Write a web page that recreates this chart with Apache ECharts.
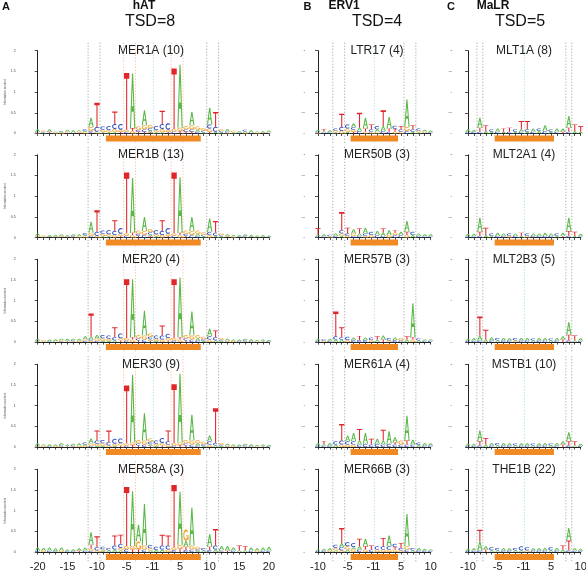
<!DOCTYPE html>
<html><head><meta charset="utf-8">
<script src="https://cdn.jsdelivr.net/npm/echarts@6/dist/echarts.min.js"></script>
<style>html,body{margin:0;padding:0;background:#fff}#c{width:586px;height:574px}</style>
</head><body><div id="c"></div>
<script>
// ---------------- DATA ----------------
const POS_A = [-20,-19,-18,-17,-16,-15,-14,-13,-12,-11,-10,-9,-8,-7,-6,-5,-4,-3,-2,-1,1,2,3,4,5,6,7,8,9,10,11,12,13,14,15,16,17,18,19,20];
const POS_BC = [-10,-9,-8,-7,-6,-5,-4,-3,-2,-1,1,2,3,4,5,6,7,8,9,10];
const TICKS_A = [-20,-15,-10,-5,-1,1,5,10,15,20];
const TICKS_BC = [-10,-5,-1,1,5,10];
const FAMILIES = ['hAT','ERV1','MaLR'];
const TSD = [8,4,5];
const PANEL_LETTERS = ['A','B','C'];
const NAMES_A = ['MER1A (10)','MER1B (13)','MER20 (4)','MER30 (9)','MER58A (3)'];
const NAMES_B = ['LTR17 (4)','MER50B (3)','MER57B (3)','MER61A (4)','MER66B (3)'];
const NAMES_C = ['MLT1A (8)','MLT2A1 (4)','MLT2B3 (5)','MSTB1 (10)','THE1B (22)'];
// dotted guide lines: drawn just after the given position
const GREY_A = [-12,-10,9,11], ORANGE_A = [-6,-4,3,5];
const GREY_B = [-8,-6,5,7];
const GREY_C = [-9,-8,7,8];
const CENTER = [-1];
// logo stacks per position: letter + height in hundredths of a bit
const MER1A = ["A6G2C2","G3A2C2","A6C2T2","A3G2","G2A2C2","A5T2G2","A6C2","G3A3T2","C4G3A3",
 "A22G10C4T2","T58C12G4","C8G6A3","C10G5A3","T30C12G8A3","C14G5T4","T137G5C4","A132T7G6","G8C5T4","A36G10C6T4","G8C6A4T3",
 "C10G5A3","T32C12G8A3","C16G5T4","T146G6C5","A152G8T6","G8C6T4","A32G10C6T4","G8A5C4","G6C4A3","A40C10G8T4","T36C12A4","G4A3C3",
 "A6C3G2","G4A3","A4C2","C4A3G2","A6C2","A3G2","A4T2","A3C2G2"];
const MER1B = ["A5G3C2","G3A2","A4C2","A5G2","G3A3C2","A4T2","C3A3G2","A5G3","C5G3A3",
 "A26G8C4","T52C10G4","C8G6A3","C10G5A3","T26C10G6","C14G5T4","T146G6C5","A132G6T6","G8C5T4","A34G10C6","G8C6A4T3",
 "C10G5A3","T26C10G6","C14G5T4","T146G6C5","A134G6T6","G8C5T4","A34G10C6","G8A5C4","G6C4A3","A32C8G6","T28C8A4","G4A3C3",
 "A4C2G2","G3A3","A4C2","C3A3G2","A5C2","A3G2","A4T2","A3C2"];
const MER20 = ["A4G2C2","G3A2","A4C2","A5G2","G3A3C2","A6T2","C3A3G2","A5G3","A8C3G3",
 "T56A6C4G3","A8G6C3","C8G6A3","C8G5A3","T24C8A4","C12G5T4","T142G6C4","A140G6T6","G8C5T4","A60G10C6","G8C6A4T3",
 "C8G5A3","T24C10G6","C10G6T4","T142G6C4","A144G6T6","G8C5T4","A58G10C6","G8A5C4","G6C4A3","A18C8G6","T16C8A4","G4A3C3",
 "A4C2G2","G3A3","A4C2","C3A3G2","A5C2","A3G2","A4T2","A3C2"];
const MER30 = ["A5G2C2","A4G3","A5C2","G3A3","A5C3G2","A4T2","C3A3G2","A6G3","C5G3A3",
 "A12G6C3","T24C8G5A3","C8G6A3","T28C8G4","C12G5A3","C12G5T4","T140G5C4","A164G6T5","G8C5T4","A66G10C6","G8C6A4T3",
 "C8G5A3","C12G6T4","T26C8G6","T142G6C4","A166G6T5","G8C5T4","A62G10C6","G8A5C4","G6C4A3","A14C8G6","T84C6A4","G4A3C3",
 "A4C2G2","G3A3","A4C2","C3A3G2","A5C2","A3G2","A4T2","A3C2"];
const MER58A = ["A8C3","A7G3","A8C3","A7C2","A8G3","A4C2","A5C2","A6T3","A8C3",
 "A30T10G5C3","T26C8G4","C6G4A3","C6A4","T24C10A6","T22C10G6A4","T142G8C7","A132G8T7","A40G20T6","A100G10C6","C8G5A4",
 "C8A5","T26C10A6","T24C10G6","T150G7C5","A128G10T8","G28A14T8C5","A92G10C6","G6C4A3","C6A4","A30T8C5","T40C10A6","A10C3G2",
 "A12T3","A8C3","T12A4","T10A4","A8C3","A6G3","A8C3","A10C3"];
const LTR17 = ["A4C3G2","T6A3C2","A5C3","C5G4A3","T32C10G6","C10G8A4","A10C6G5T4","T36A8C6","A26T8G4","T12C6G4",
 "C8A6G4","T38A12C6","A28T8C4","C8G5T6","T8C6G4","A66G10C6","T10C6A4","C5G4A3","A4G3C2","A4C3"];
const MER50B = ["T16A4C3","A5C3","C4G3","A6C4","T44C8G6A4","T14C6G4","A10G6C4","T12A6C4","A14C6G4","C8G6",
 "A10C6","T10A8C4","A12G6","C6G6T6","A8C6","A26T8G6","C8A6","A6C4","A5C3","A5C3"];
const MER57B = ["A5C3","C4G3","A5C3","T60C8A6","T24A6C6","C8G5","A6C5","T10C5","A6C5","C6G5",
 "T8A6","A10T6","C6G4","A6C5","G6C4","T8A6","A82G6T6","C5A4","A4C3","A4C3"];
const MER61A = ["A5C4","T8A4C3","A6C4","C8A6","T40C10G6","A14C8G6","A20C8G6","T28A10C6","A26C8","T14C6",
 "A12C8","T26A10C6","A30C8","A12C6T6","G10C6","A60T10C6","A12C6","C6A5","A6C4","A5C4"];
const MER66B = ["A4C3","A5C3","A6G3","C8G6A4","T36A10C8G4","C10G8A6","C10G6A6","T18A8C6","A18T8G6","T10C6",
 "C8G6","T20C8G6","A26C8G6","C8G6T6","T12C6G4","A78G8C6","C6A4","A6C4","A5C3","A4C3"];
const MLT1A = ["A8C3","A5C4","A24T10C4","T14A6","C6A4","A8C4","T8A4","T10C4","C6A4","T20A6C4",
 "T20C6A4","A8C4","A6C6","A14C6","C6A4","A8C4","A8T4","A28T10C4","T16A6","T14A4"];
const MLT2A1 = ["A6C3","A6C3","A34T10C4","T18A6","C6A4","A8C4","A6C4","C6G4","A6C4","T8A4",
 "C6G4","A6C4","A6C4","A8C4","A6C4","C6A4","A8T4","A32T12C4","T10A4","A6C3"];
const MLT2B3 = ["A5C3","A6C3","T46A12C4","T24A6","A8C4","C6A4","A6C4","A5C4","C6G4","A6C4",
 "A6C4","C5A4","A6C4","A6C4","C5A4","A6C4","A8T6","A30T14C4","T12A4","A6C3"];
const MSTB1 = ["A5C3","A5C3","A26T10C4","T16A6","A6C4","C6A4","A6C4","A5C4","C5A4","A5C4",
 "A5C4","C5A4","A5C4","A6C4","C5A4","A6C4","A8T6","A22T10C4","T10A4","A5C3"];
const THE1B = ["A5C3","A6C3","T28A22C4","A8T6","C8A4","C6A4","A5C4","A5C4","C6A4","C10A4",
 "C8G4","A5C4","A5C4","A6C4","C8A4","A6C4","T10A6","A30T24C4","A6C3","A5C3"];

const COLUMNS = [
  {pos: POS_A, ticks: TICKS_A, names: NAMES_A, panels: [MER1A,MER1B,MER20,MER30,MER58A], grey: GREY_A, orange: ORANGE_A, tsd: TSD[0]},
  {pos: POS_BC, ticks: TICKS_BC, names: NAMES_B, panels: [LTR17,MER50B,MER57B,MER61A,MER66B], grey: GREY_B, orange: [], tsd: TSD[1]},
  {pos: POS_BC, ticks: TICKS_BC, names: NAMES_C, panels: [MLT1A,MLT2A1,MLT2B3,MSTB1,THE1B], grey: GREY_C, orange: [], tsd: TSD[2]}
];

// ---------------- LAYOUT / STYLE ----------------
const STEP = 5.93;
const GEOM = [
  {first: 37.7, yAxisX: 22.7, nameX: 151, headX: 144, tsdX: 150, letterX: 6, yLab: 3.5, yMargin: 7},
  {first: 318, yAxisX: 308, nameX: 377, headX: 344, tsdX: 377, letterX: 307.5, yLab: 2.5, yMargin: 3},
  {first: 468, yAxisX: 455, nameX: 524, headX: 493, tsdX: 520, letterX: 451, yLab: 2.5, yMargin: 3}
];
const ROW_TOP = [50.7, 154.8, 259.3, 364.3, 469.3];
const ROW_H = 82.8;
const COLORS = ['#59b846', '#2c4fbf', '#f2a532', '#e0262b'];
const LINE_COLORS = {grey: '#8c8c8c', orange: '#f4ad78', blue: '#93cfe9'};
const FONT = 'Liberation Sans, Arial, Helvetica, sans-serif';

// glyph outlines in unit box (x right, y up)
function arcPts(cx, cy, rx, ry, a0, a1, n) {
  const p = [];
  for (let k = 0; k <= n; k++) { const a = (a0 + (a1 - a0) * k / n) * Math.PI / 180; p.push([cx + rx * Math.cos(a), cy + ry * Math.sin(a)]); }
  return p;
}
const C_RING = arcPts(0.5, 0.5, 0.5, 0.5, 42, 318, 24).concat(arcPts(0.5, 0.5, 0.3, 0.31, 318, 42, 24));
const G_RING = arcPts(0.5, 0.5, 0.5, 0.5, 42, 335, 24).concat(arcPts(0.5, 0.5, 0.3, 0.31, 335, 42, 24));
const GLYPHS = [
  [[[0,0],[0.4,1],[0.6,1],[1,0],[0.8,0],[0.68,0.3],[0.32,0.3],[0.2,0]], [[0.36,0.4],[0.64,0.4],[0.5,0.75]]],
  [C_RING],
  [G_RING, [[0.55,0.38],[1,0.38],[1,0.5],[0.55,0.5]], [[0.84,0.1],[1,0.1],[1,0.5],[0.84,0.5]]],
  [[[0,1],[1,1],[1,0.9],[0.6,0.9],[0.6,0],[0.4,0],[0.4,0.9],[0,0.9]]]
];
function glyphPath(li, x, top, w, h) {
  let d = '';
  GLYPHS[li].forEach(ring => {
    ring.forEach((p, k) => { d += (k ? 'L' : 'M') + (x + p[0] * w).toFixed(2) + ' ' + (top + (1 - p[1]) * h).toFixed(2); });
    d += 'Z';
  });
  return d;
}
function parseStacks(arr) {
  const out = [];
  arr.forEach((s, i) => {
    const items = [];
    s.replace(/([ACGT])(\d+)/g, (m, l, v) => { items.push(['ACGT'.indexOf(l), +v / 100]); return m; });
    items.sort((a, b) => a[1] - b[1]);
    let y = 0;
    items.forEach(([li, v]) => { out.push([i, li, y, y + v]); y += v; });
  });
  return out;
}

function renderLetter(params, api) {
  const i = api.value(0), li = api.value(1), y0 = api.value(2), y1 = api.value(3);
  const a = api.coord([i - 0.5, y0]), b = api.coord([i + 0.5, y1]);
  const h = a[1] - b[1];
  if (h < 0.2) return null;
  return {type: 'path', shape: {pathData: glyphPath(li, a[0] + 0.3, b[1], b[0] - a[0] - 0.6, h)}, style: {fill: COLORS[li]}};
}

const grids = [], xAxes = [], yAxes = [], series = [], graphics = [];
COLUMNS.forEach((col, c) => {
  const g = GEOM[c];
  const n = col.pos.length;
  const idx = p => col.pos.indexOf(p);
  // headers
  graphics.push({type: 'text', x: g.letterX, y: 7, style: {text: PANEL_LETTERS[c], font: 'bold 11px ' + FONT, fill: '#111', align: 'center', verticalAlign: 'middle'}});
  graphics.push({type: 'text', x: g.headX, y: 6, style: {text: FAMILIES[c], font: 'bold 12px ' + FONT, fill: '#111', align: 'center', verticalAlign: 'middle'}});
  graphics.push({type: 'text', x: g.tsdX, y: 22, style: {text: 'TSD=' + col.tsd, font: '16px ' + FONT, fill: '#111', align: 'center', verticalAlign: 'middle'}});
  col.panels.forEach((panel, r) => {
    const gi = grids.length;
    const last = r === 4;
    grids.push({left: g.first, top: ROW_TOP[r], width: (n - 1) * STEP, height: ROW_H, containLabel: false, outerBoundsMode: 'none'});
    xAxes.push({type: 'value', gridIndex: gi, min: 0, max: n - 1, interval: 1, offset: 4.5,
      axisLine: {lineStyle: {color: '#222', width: 1}}, axisTick: {length: 2.5, lineStyle: {color: '#222', width: 0.8}},
      splitLine: {show: false},
      axisLabel: {show: last, fontSize: 11, fontFamily: FONT, color: '#222', margin: 5,
        formatter: v => col.ticks.indexOf(col.pos[Math.round(v)]) >= 0 ? String(col.pos[Math.round(v)]) : ''}});
    yAxes.push({type: 'value', gridIndex: gi, min: 0, max: 2, interval: 0.5, offset: g.first - g.yAxisX,
      axisLine: {show: true, lineStyle: {color: '#222', width: 1}}, axisTick: {show: true, length: 3, lineStyle: {color: '#222', width: 0.8}},
      splitLine: {show: false},
      axisLabel: {fontSize: g.yLab, color: '#444', margin: g.yMargin, fontFamily: FONT},
      name: c === 0 ? 'Information content' : '', nameLocation: 'middle', nameGap: 14, nameRotate: 90,
      nameTextStyle: {fontSize: 3, color: '#555', fontFamily: FONT}});
    // panel title
    graphics.push({type: 'text', x: g.nameX, y: ROW_TOP[r], style: {text: col.names[r], font: '12px ' + FONT, fill: '#222', align: 'center', verticalAlign: 'middle'}, z: 10});
    // dotted guide lines
    const lineData = [];
    col.grey.forEach(p => lineData.push([idx(p) + 0.5, 0]));
    col.orange.forEach(p => lineData.push([idx(p) + 0.5, 1]));
    CENTER.forEach(p => lineData.push([idx(p) + 0.5, 2]));
    series.push({type: 'custom', xAxisIndex: gi, yAxisIndex: gi, z: 1, silent: true, clip: false,
      data: lineData,
      renderItem: (params, api) => {
        const x = api.coord([api.value(0), 0])[0];
        const y0 = api.coord([0, 2])[1] - 8, y1 = api.coord([0, 0])[1] + 10;
        const colr = [LINE_COLORS.grey, LINE_COLORS.orange, LINE_COLORS.blue][api.value(1)];
        return {type: 'line', shape: {x1: x, y1: y0, x2: x, y2: y1}, style: {stroke: colr, lineWidth: 0.9, lineDash: [1, 2]}};
      }});
    // logo letters
    series.push({type: 'custom', xAxisIndex: gi, yAxisIndex: gi, z: 3, silent: true, clip: false,
      data: parseStacks(panel), renderItem: renderLetter});
    // TSD bar
    series.push({type: 'custom', xAxisIndex: gi, yAxisIndex: gi, z: 4, silent: true, clip: false,
      data: [[idx(-col.tsd) - 0.5, idx(col.tsd) + 0.5]],
      renderItem: (params, api) => {
        const a = api.coord([api.value(0), 0]), b = api.coord([api.value(1), 0]);
        return {type: 'rect', shape: {x: a[0], y: a[1] + 2, width: b[0] - a[0], height: 6}, style: {fill: '#f08a24'}};
      }});
  });
});

const chart = echarts.init(document.getElementById('c'), null, {renderer: 'canvas'});
chart.setOption({animation: false, backgroundColor: '#fff', grid: grids, xAxis: xAxes, yAxis: yAxes, series: series, graphic: graphics});
</script></body></html>
